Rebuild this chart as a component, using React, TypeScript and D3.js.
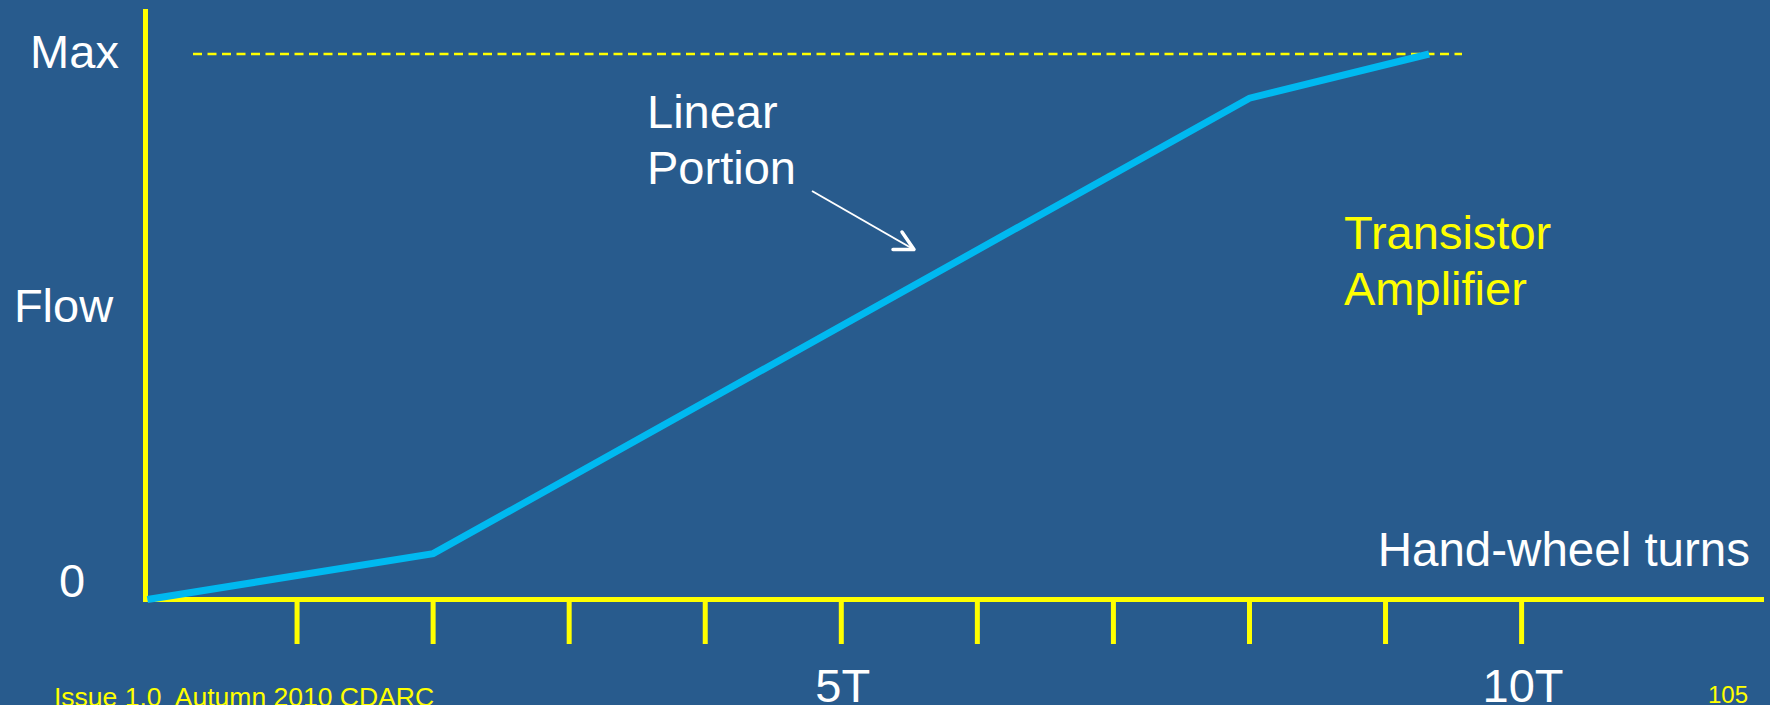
import React from "react";
import * as d3 from "d3";

// ---- data ----
const turns = [-0.1, 2, 8, 9.32];          // hand-wheel turns
const flow = [0, 8.4, 91.9, 100];          // flow (% of max)
const tickTurns = [1, 2, 3, 4, 5, 6, 7, 8, 9, 10];
const tickLabels = [
  { t: 5, label: "5T" },
  { t: 10, label: "10T" },
];
const yLabels = [
  { v: 100, label: "Max" },
  { v: 0, label: "0" },
];
const maxFlow = 100;

const W = 1770;
const H = 705;
const BG = "#285B8D";
const YEL = "#FFFF00";
const CYAN = "#00B9F0";
const FONT = "'Liberation Sans', Arial, Helvetica, sans-serif";

export default function App() {
  const x = d3.scaleLinear().domain([0, 10]).range([161, 1521.6]);
  const y = d3.scaleLinear().domain([0, maxFlow]).range([599.5, 54]);

  const pts = turns.map((t, i) => [x(t), y(flow[i])] as [number, number]);
  const line = d3.line()(pts) || "";

  const axisX = 145.5;
  const axisY = y(0);

  return (
    <svg
      width={W}
      height={H}
      style={{ position: "absolute", left: 0, top: 0, display: "block" }}
      fontFamily={FONT}
    >
      <rect x={0} y={0} width={W} height={H} fill={BG} />

      {/* Max dashed line */}
      <line
        x1={193}
        x2={1462}
        y1={y(maxFlow)}
        y2={y(maxFlow)}
        stroke={YEL}
        strokeWidth={2.5}
        strokeDasharray="9 5.5"
      />

      {/* y axis */}
      <line x1={axisX} x2={axisX} y1={9} y2={axisY + 2.5} stroke={YEL} strokeWidth={5} />
      {/* x axis */}
      <line x1={143} x2={1764} y1={axisY} y2={axisY} stroke={YEL} strokeWidth={5} />
      {/* ticks */}
      {tickTurns.map((t) => (
        <line key={t} x1={x(t)} x2={x(t)} y1={axisY} y2={644} stroke={YEL} strokeWidth={5} />
      ))}

      {/* data line */}
      <path d={line} fill="none" stroke={CYAN} strokeWidth={7} strokeLinejoin="miter" />

      {/* tick labels */}
      {tickLabels.map((d) => (
        <text key={d.label} x={x(d.t) + 1.5} y={702} fill="#fff" fontSize={47} textAnchor="middle">
          {d.label}
        </text>
      ))}

      {/* y labels */}
      <text x={74.5} y={y(yLabels[0].v) + 14} fill="#fff" fontSize={47} textAnchor="middle">
        {yLabels[0].label}
      </text>
      <text x={63.5} y={321.5} fill="#fff" fontSize={47} textAnchor="middle">
        Flow
      </text>
      <text x={72} y={597} fill="#fff" fontSize={47} textAnchor="middle">
        {yLabels[1].label}
      </text>

      {/* axis title */}
      <text x={1750} y={566} fill="#fff" fontSize={47.5} textAnchor="end">
        Hand-wheel turns
      </text>

      {/* annotation */}
      <text x={647} y={128} fill="#fff" fontSize={47}>
        Linear
      </text>
      <text x={647} y={184} fill="#fff" fontSize={47}>
        Portion
      </text>
      <line x1={812} y1={191} x2={913} y2={249} stroke="#fff" strokeWidth={2} />
      <polyline
        points="902,232 914,249.5 893,249.5"
        fill="none"
        stroke="#fff"
        strokeWidth={3.5}
        strokeLinecap="round"
        strokeLinejoin="round"
      />

      <text x={1344} y={249} fill={YEL} fontSize={47}>
        Transistor
      </text>
      <text x={1344} y={305} fill={YEL} fontSize={47}>
        Amplifier
      </text>

      {/* footer */}
      <text x={54} y={706} fill={YEL} fontSize={26.5} style={{ whiteSpace: "pre" }}>
        {"Issue 1.0  Autumn 2010 CDARC"}
      </text>
      <text x={1748} y={703} fill={YEL} fontSize={24} textAnchor="end">
        105
      </text>
    </svg>
  );
}
